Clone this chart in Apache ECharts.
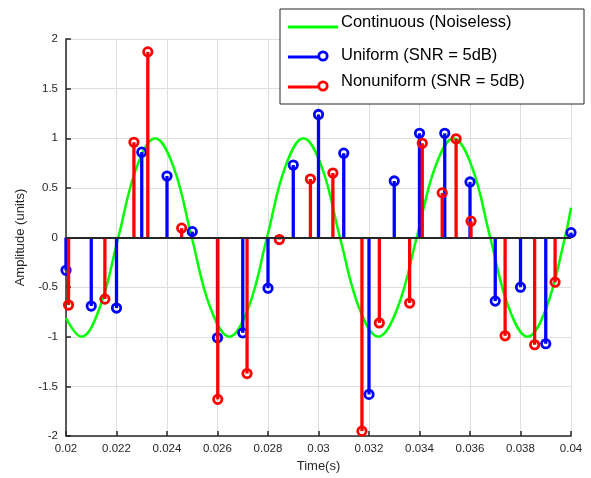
<!DOCTYPE html>
<html>
<head>
<meta charset="utf-8">
<script src="https://cdn.jsdelivr.net/npm/echarts@6/dist/echarts.min.js"></script>
<style>html,body{margin:0;padding:0;background:#fff;}#c{width:591px;height:478px;}</style>
</head>
<body>
<div id="c"></div>
<script>
// Continuous (noiseless) curve
var contT = [0.020, 0.0206, 0.02133, 0.02207, 0.0228, 0.02353, 0.02426, 0.02498, 0.02572, 0.02647, 0.02722, 0.02796, 0.02868, 0.0294, 0.03013, 0.03085, 0.03161, 0.03237, 0.03313, 0.03389, 0.03462, 0.03535, 0.03608, 0.0368, 0.03754, 0.03828, 0.03902, 0.03976, 0.040];
var contV = [-0.81, -1.0, -0.71, 0, 0.71, 1.0, 0.71, 0, -0.71, -1.0, -0.71, 0, 0.71, 1.0, 0.71, 0, -0.71, -1.0, -0.71, 0, 0.71, 1.0, 0.71, 0, -0.71, -1.0, -0.71, 0, 0.30];
// Uniform samples
var uniT = [0.020, 0.021, 0.022, 0.023, 0.024, 0.025, 0.026, 0.027, 0.028, 0.029, 0.030, 0.031, 0.032, 0.033, 0.034, 0.035, 0.036, 0.037, 0.038, 0.039, 0.040];
var uniV = [-0.33, -0.69, -0.71, 0.86, 0.62, 0.06, -1.01, -0.96, -0.51, 0.73, 1.24, 0.85, -1.58, 0.57, 1.05, 1.05, 0.56, -0.64, -0.50, -1.07, 0.05];
// Nonuniform samples
var nonT = [0.0201, 0.02154, 0.02269, 0.02324, 0.02458, 0.02601, 0.02717, 0.02845, 0.02968, 0.03057, 0.03172, 0.03241, 0.03361, 0.03411, 0.0349, 0.03545, 0.03604, 0.03739, 0.03856, 0.03937];
var nonV = [-0.68, -0.62, 0.96, 1.87, 0.095, -1.63, -1.37, -0.02, 0.59, 0.65, -1.95, -0.86, -0.66, 0.95, 0.45, 0.995, 0.165, -0.99, -1.08, -0.45];
var seriesNames = ['Continuous (Noiseless)', 'Uniform (SNR = 5dB)', 'Nonuniform (SNR = 5dB)'];

function zip(a, b) { return a.map(function (v, i) { return [v, b[i]]; }); }
function fmt(v) { return String(parseFloat(v.toFixed(4))); }

var AX = '#262626';
var FONT = 'Liberation Sans, Arial, sans-serif';

function stemRender(color) {
  return function (params, api) {
    var t = api.value(0), v = api.value(1);
    var p0 = api.coord([t, 0]), p1 = api.coord([t, v]);
    return {
      type: 'group',
      children: [
        { type: 'line', shape: { x1: p0[0], y1: p0[1], x2: p1[0], y2: p1[1] }, style: { stroke: color, lineWidth: 3.3 } },
        { type: 'circle', shape: { cx: p1[0], cy: p1[1], r: 4.2 }, style: { fill: 'none', stroke: color, lineWidth: 2.8 } }
      ]
    };
  };
}

var chart = echarts.init(document.getElementById('c'), null, { renderer: 'canvas' });
var option = {
  animation: false,
  backgroundColor: '#fff',
  grid: { left: 66, right: 20, top: 39, bottom: 40, containLabel: false },
  xAxis: {
    type: 'value', min: 0.02, max: 0.04, interval: 0.002,
    name: 'Time(s)', nameLocation: 'middle', nameGap: 23,
    nameTextStyle: { color: AX, fontSize: 13, fontFamily: FONT },
    axisLine: { onZero: false, lineStyle: { color: AX, width: 1.5 } },
    axisTick: { inside: true, length: 5, lineStyle: { color: AX, width: 1.5 } },
    axisLabel: { color: AX, fontSize: 11.5, fontFamily: FONT, margin: 7, formatter: fmt },
    splitLine: { show: true, lineStyle: { color: '#dedede', width: 1 } }
  },
  yAxis: {
    type: 'value', min: -2, max: 2, interval: 0.5,
    name: 'Amplitude (units)', nameLocation: 'middle', nameGap: 39,
    nameTextStyle: { color: AX, fontSize: 13, fontFamily: FONT },
    axisLine: { onZero: false, lineStyle: { color: AX, width: 1.5 } },
    axisTick: { inside: true, length: 5, lineStyle: { color: AX, width: 1.5 } },
    axisLabel: { color: AX, fontSize: 11.5, fontFamily: FONT, margin: 8, formatter: fmt },
    splitLine: { show: true, lineStyle: { color: '#dedede', width: 1 } }
  },
  series: [
    {
      name: seriesNames[0], type: 'line', data: zip(contT, contV), smooth: 0.4,
      showSymbol: false, lineStyle: { color: '#00ff00', width: 2.5 }, z: 2
    },
    {
      name: seriesNames[1], type: 'custom', data: zip(uniT, uniV), renderItem: stemRender('#0000ff'), z: 3
    },
    {
      name: seriesNames[2], type: 'custom', data: zip(nonT, nonV), renderItem: stemRender('#ff0000'), z: 4,
      markLine: {
        silent: true, symbol: 'none', label: { show: false },
        lineStyle: { color: AX, width: 2, type: 'solid' },
        data: [{ yAxis: 0 }], z: 5
      }
    }
  ],
  graphic: [
    { type: 'rect', z: 100, shape: { x: 280, y: 9, width: 304, height: 95 }, style: { fill: '#fff', stroke: AX, lineWidth: 1 } },
    { type: 'line', z: 101, shape: { x1: 288, y1: 27, x2: 338, y2: 27 }, style: { stroke: '#00ff00', lineWidth: 3 } },
    { type: 'text', z: 101, x: 341, y: 22, style: { text: seriesNames[0], fill: '#000', font: '16.5px ' + FONT, verticalAlign: 'middle' } },
    { type: 'line', z: 101, shape: { x1: 288, y1: 57, x2: 323, y2: 57 }, style: { stroke: '#0000ff', lineWidth: 3 } },
    { type: 'circle', z: 101, shape: { cx: 323, cy: 56, r: 4.2 }, style: { fill: '#fff', stroke: '#0000ff', lineWidth: 2.8 } },
    { type: 'text', z: 101, x: 341, y: 55, style: { text: seriesNames[1], fill: '#000', font: '16.5px ' + FONT, verticalAlign: 'middle' } },
    { type: 'line', z: 101, shape: { x1: 288, y1: 87, x2: 323, y2: 87 }, style: { stroke: '#ff0000', lineWidth: 3 } },
    { type: 'circle', z: 101, shape: { cx: 323, cy: 86, r: 4.2 }, style: { fill: '#fff', stroke: '#ff0000', lineWidth: 2.8 } },
    { type: 'text', z: 101, x: 341, y: 81, style: { text: seriesNames[2], fill: '#000', font: '16.5px ' + FONT, verticalAlign: 'middle' } }
  ]
};
chart.setOption(option);
</script>
</body>
</html>
